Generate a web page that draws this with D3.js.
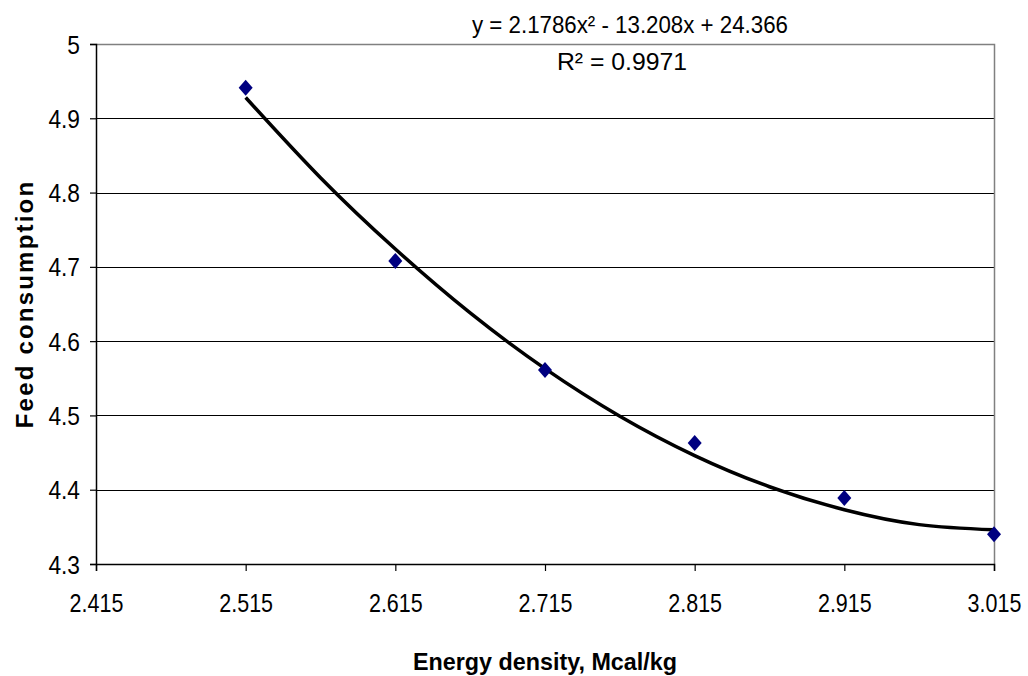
<!DOCTYPE html>
<html>
<head>
<meta charset="utf-8">
<script src="https://cdn.jsdelivr.net/npm/d3@7"></script>
<style>
  body { margin: 0; background: #fff; }
  svg text { font-family: "Liberation Sans Narrow", "Arial Narrow", "Liberation Sans", Arial, sans-serif; fill: #000; }
</style>
</head>
<body>
<svg id="chart" width="1028" height="676"></svg>
<script>
// Observed points
const energy = [2.515, 2.615, 2.715, 2.815, 2.915, 3.015];
const feed = [4.941, 4.708, 4.561, 4.463, 4.389, 4.340];

// Polynomial trendline
const trendX = [2.515, 2.565, 2.615, 2.665, 2.715, 2.765, 2.815, 2.865, 2.915, 2.965, 3.015];
const trendY = [4.928, 4.820, 4.724, 4.638, 4.563, 4.499, 4.446, 4.404, 4.373, 4.353, 4.346];

const xTicks = [2.415, 2.515, 2.615, 2.715, 2.815, 2.915, 3.015];
const yTicks = [4.3, 4.4, 4.5, 4.6, 4.7, 4.8, 4.9, 5];

const equationLabel = "y = 2.1786x² - 13.208x + 24.366";
const r2Label = "R² = 0.9971";

const svg = d3.select("#chart");
const margin = { left: 96, right: 34, top: 44, bottom: 112 };
const width = 1028, height = 676;

const x = d3.scaleLinear().domain([2.415, 3.015]).range([margin.left, width - margin.right]);
const y = d3.scaleLinear().domain([4.3, 5]).range([height - margin.bottom, margin.top]);

// Gridlines
svg.append("g")
  .selectAll("line")
  .data(yTicks.filter(d => d > 4.3 && d < 5))
  .enter()
  .append("line")
  .attr("x1", margin.left)
  .attr("x2", width - margin.right)
  .attr("y1", d => Math.round(y(d)) + 0.5)
  .attr("y2", d => Math.round(y(d)) + 0.5)
  .attr("stroke", "#000")
  .attr("stroke-width", 1);

// Plot frame: top and right in grey
svg.append("path")
  .attr("d", `M${margin.left},${margin.top + 0.5}H${width - margin.right + 0.5}V${height - margin.bottom}`)
  .attr("fill", "none")
  .attr("stroke", "#808080")
  .attr("stroke-width", 1.5);

// Axes
const xAxis = svg.append("g")
  .attr("transform", `translate(0,${height - margin.bottom})`)
  .call(d3.axisBottom(x).tickValues(xTicks).tickFormat(d3.format(".3f")).tickSize(7).tickPadding(23));

const yAxis = svg.append("g")
  .attr("transform", `translate(${margin.left},0)`)
  .call(d3.axisLeft(y).tickValues(yTicks).tickFormat(d => d3.format("")(+d.toFixed(1))).tickSize(6).tickPadding(10));

[xAxis, yAxis].forEach(a => {
  a.select(".domain").attr("stroke", "#000").attr("stroke-width", 1.5);
  a.selectAll(".tick line").attr("stroke", "#000").attr("stroke-width", 1.2);
  a.selectAll("text").attr("font-size", 25).attr("fill", "#000");
});
// squeeze labels to look like the narrow face
xAxis.selectAll(".tick text").attr("transform", "scale(0.86,1)");
yAxis.selectAll(".tick text").attr("dy", "0.36em").attr("transform", "scale(0.91,1)")
  .attr("x", -16 / 0.91);

// Trendline
const line = d3.line()
  .x((d, i) => x(trendX[i]))
  .y(d => y(d))
  .curve(d3.curveNatural);

svg.append("path")
  .datum(trendY)
  .attr("d", line)
  .attr("fill", "none")
  .attr("stroke", "#000")
  .attr("stroke-width", 3.5);

// Diamond markers
svg.append("g")
  .selectAll("path")
  .data(energy)
  .enter()
  .append("path")
  .attr("d", "M0,-8L7,0L0,8L-7,0Z")
  .attr("transform", (d, i) => `translate(${x(d)},${y(feed[i])})`)
  .attr("fill", "#000080");

// Equation and R² labels
svg.append("text")
  .attr("x", 630)
  .attr("y", 33)
  .attr("text-anchor", "middle")
  .attr("font-size", 24)
  .attr("textLength", 316)
  .attr("lengthAdjust", "spacingAndGlyphs")
  .text(equationLabel);

svg.append("text")
  .attr("x", 622)
  .attr("y", 70)
  .attr("text-anchor", "middle")
  .attr("font-size", 24)
  .attr("textLength", 130)
  .attr("lengthAdjust", "spacingAndGlyphs")
  .text(r2Label);

// Axis titles
svg.append("text")
  .attr("x", 545)
  .attr("y", 670)
  .attr("text-anchor", "middle")
  .attr("font-size", 24)
  .attr("font-weight", "bold")
  .attr("textLength", 264)
  .attr("lengthAdjust", "spacingAndGlyphs")
  .text("Energy density, Mcal/kg");

svg.append("text")
  .attr("transform", "translate(33,304) rotate(-90)")
  .attr("text-anchor", "middle")
  .attr("font-size", 24)
  .attr("font-weight", "bold")
  .attr("letter-spacing", 2.2)
  .text("Feed consumption");
</script>
</body>
</html>
